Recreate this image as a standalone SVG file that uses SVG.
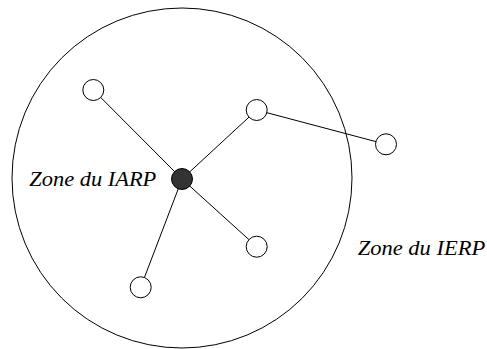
<svg xmlns="http://www.w3.org/2000/svg" width="487" height="349" viewBox="0 0 487 349">
<style>
.zone{fill:none;stroke:#000;stroke-width:1}
.edge{stroke:#000;stroke-width:1}
.node{fill:#fff;stroke:#000;stroke-width:1}
.center{fill:#333;stroke:#000;stroke-width:1}
.lbl{font-family:"Liberation Serif","DejaVu Serif",serif;font-style:italic;font-size:21px;fill:#000}
</style>
<rect width="487" height="349" fill="#fff"/>
<g id="zone"><circle class="zone" cx="182" cy="178" r="170"/></g>
<g id="connectors">
<line class="edge" x1="182" y1="179" x2="93.3" y2="90"/>
<line class="edge" x1="182" y1="179" x2="256.7" y2="110"/>
<line class="edge" x1="182" y1="179" x2="256.7" y2="246.7"/>
<line class="edge" x1="182" y1="179" x2="140.7" y2="287.3"/>
<line class="edge" x1="256.7" y1="110" x2="386" y2="144.3"/>
</g>
<g id="n1"><circle class="node" cx="93.3" cy="90" r="10.5"/></g>
<g id="n2"><circle class="node" cx="256.7" cy="110" r="10.5"/></g>
<g id="n3"><circle class="node" cx="386" cy="144.3" r="10.5"/></g>
<g id="n4"><circle class="node" cx="256.7" cy="246.7" r="10.5"/></g>
<g id="n5"><circle class="node" cx="140.7" cy="287.3" r="10.5"/></g>
<g id="center"><circle class="center" cx="182" cy="179" r="10.5"/></g>
<g id="label-iarp"><text class="lbl" x="29.3" y="185.5" textLength="127" lengthAdjust="spacingAndGlyphs">Zone du IARP</text></g>
<g id="label-ierp"><text class="lbl" x="357.7" y="254.5" textLength="127.6" lengthAdjust="spacingAndGlyphs">Zone du IERP</text></g>
</svg>
